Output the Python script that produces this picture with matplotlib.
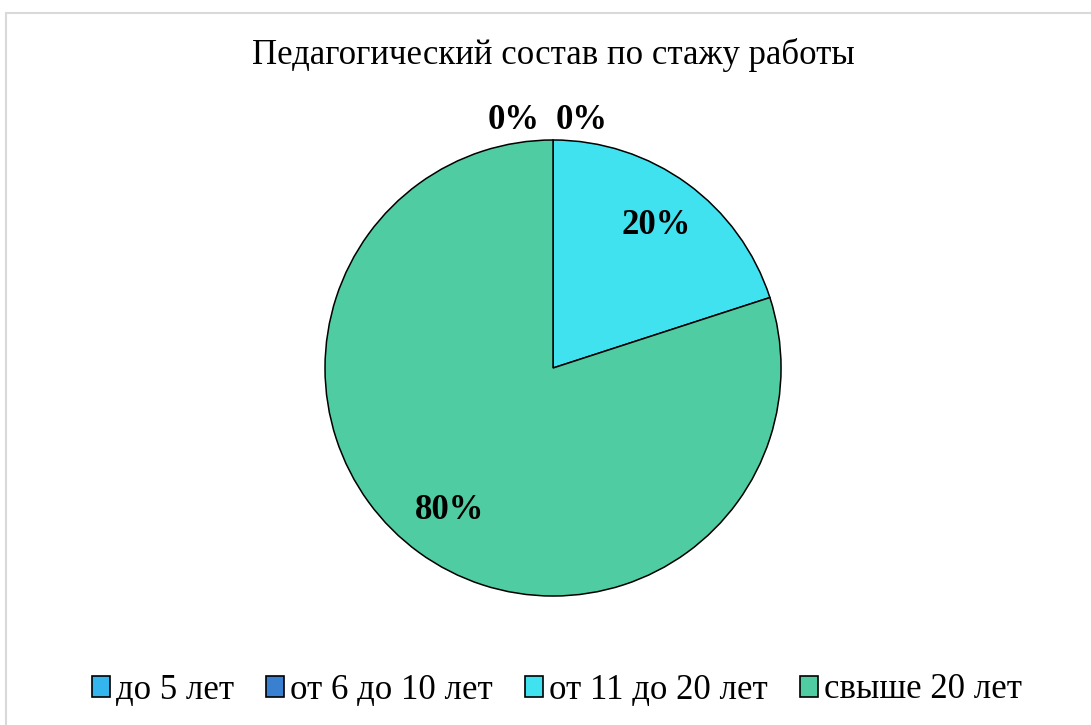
import matplotlib.pyplot as plt
import matplotlib.patches as patches
import numpy as np

plt.rcParams['font.family'] = ['Liberation Serif', 'DejaVu Serif']

# data
title = "Педагогический состав по стажу работы"
categories = ["до 5 лет", "от 6 до 10 лет", "от 11 до 20 лет", "свыше 20 лет"]
shares = [0, 0, 20, 80]
colors = ["#35b5ee", "#3a80d0", "#3fe2ee", "#50cca2"]

fig = plt.figure(figsize=(10.91, 7.25), dpi=100)

# light grey chart frame (runs off the right and bottom edges)
fig.patches.append(patches.Rectangle((6 / 1091, -0.05), 1.2, (725 - 13) / 725 + 0.05,
                                     transform=fig.transFigure, fill=False,
                                     edgecolor="#d9d9d9", linewidth=1.5))

ax = fig.add_axes([0.2979, 0.1779, 0.418, 0.629])
wedges, _ = ax.pie(shares, colors=colors, startangle=90, counterclock=False,
                   radius=1, wedgeprops=dict(edgecolor="black", linewidth=1.1))
ax.set_xlim(-1, 1)
ax.set_ylim(-1, 1)
ax.set_aspect("equal")
ax.axis("off")

# percentage labels
total = sum(shares)
start = 90.0
zero_shift = [-0.175, 0.125]
zi = 0
for v in shares:
    ang = start - 360.0 * v / total / 2
    pct = f"{round(100 * v / total)}%"
    if v == 0:
        x, y = zero_shift[zi], 1.085
        zi += 1
    else:
        r = 0.77
        x, y = r * np.cos(np.radians(ang)), r * np.sin(np.radians(ang))
    ax.text(x, y, pct, ha="center", va="center", fontsize=25, fontweight="bold",
            clip_on=False)
    start -= 360.0 * v / total

fig.text(553 / 1091, 1 - 55 / 725, title, ha="center", va="center", fontsize=25)

handles = [patches.Patch(facecolor=c, edgecolor="black", linewidth=1.2) for c in colors]
fig.legend(handles, categories, loc="center", bbox_to_anchor=(557 / 1091, 1 - 690 / 725),
           ncol=4, frameon=False, fontsize=25, handlelength=0.52, handleheight=0.55,
           handletextpad=0.17, columnspacing=0.92)

fig.savefig("out.png", dpi=100)
